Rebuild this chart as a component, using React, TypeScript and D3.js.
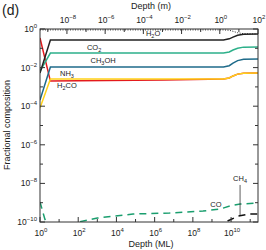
import React, { useEffect, useRef } from 'react';
import * as d3 from 'd3';

// depth grid (monolayers) shared by the ice species
const depthML = [1, 3.5, 3e6, 4e9, 8e9, 1.26e10, 2.2e10, 4.5e10, 2.56e11];
const h2oDotted = [0.9, 0.9, 0.9, 0.9, 0.86, 0.76, 0.64, 0.57, 0.55];
const bulkSolid = [0.0052, 0.27, 0.27, 0.27, 0.31, 0.38, 0.47, 0.54, 0.55];
const co2 = [0.0066, 0.057, 0.057, 0.057, 0.065, 0.082, 0.1, 0.115, 0.117];
const ch3oh = [2.1e-4, 0.0107, 0.0107, 0.0107, 0.0125, 0.017, 0.023, 0.027, 0.028];
const nh3 = [0.34, 0.002, 0.0023, 0.0026, 0.0029, 0.0037, 0.0046, 0.0051, 0.0052];
const h2co = [8.1e-5, 0.0026, 0.0026, 0.0026, 0.0029, 0.0037, 0.0046, 0.0051, 0.0052];

const coDepth = [1, 1.8, 3, 30, 100, 1e3, 7.4e4, 6e6, 3.4e8, 2.6e9, 9e9, 3e10, 2.56e11];
const coValue = [1.1e-9, 1.4e-10, 5e-11, 5e-11, 1e-10, 1.6e-10, 2.6e-10, 2.9e-10, 3.7e-10, 4.7e-10, 6.8e-10, 8.5e-10, 9.6e-10];
const ch4Depth = [2e9, 5e9, 2.3e10, 1e11, 2.56e11];
const ch4Value = [5e-11, 1e-10, 2e-10, 2.6e-10, 2.6e-10];

const mPerML = 3.9e-10;
const bottomTicks = [0, 2, 4, 6, 8, 10];
const topTicks = [-8, -6, -4, -2, 0, 2];
const yTicks = [0, -2, -4, -6, -8, -10];

// label: [main, subscript, depth, value]
const labels: [string, string, number, number][] = [
  ['CO', '2', 676, 0.081],
  ['CH', '3OH', 2000, 0.0174],
  ['NH', '3', 25.7, 0.0036],
  ['H', '2CO', 25.7, 8.7e-4],
  ['H', '2O', 8.3e5, 0.44],
  ['CO', '', 1.6e9, 6e-10],
  ['CH', '4', 2.95e10, 1.3e-8],
];

const FONT = 'Liberation Sans, Arial, Helvetica, sans-serif';

const App: React.FC = () => {
  const svgRef = useRef<SVGSVGElement>(null);

  useEffect(() => {
    if (!svgRef.current) return;
    const svg = d3.select(svgRef.current);
    svg.selectAll('*').remove();

    const left = 40, right = 258, top = 29, bottom = 222;
    const x = d3.scaleLog().domain([1, 2.56e11]).range([left, right]);
    const xm = d3.scaleLog().domain([mPerML, 2.56e11 * mPerML]).range([left, right]);
    const y = d3.scaleLog().domain([1e-10, 1]).range([bottom, top]);

    svg.append('defs').append('clipPath').attr('id', 'plot-clip')
      .append('rect').attr('x', left).attr('y', top).attr('width', right - left).attr('height', bottom - top);

    const g = svg.append('g').attr('clip-path', 'url(#plot-clip)');
    const line = d3.line<[number, number]>().x(d => x(d[0])).y(d => y(d[1]));
    const pairs = (xs: number[], vs: number[]) => xs.map((d, i) => [d, vs[i]] as [number, number]);

    const series: [number[], number[], string, string, number][] = [
      [depthML, nh3, '#e41a1c', '', 1.5],
      [depthML, h2co, '#ffd21a', '', 1.5],
      [depthML, ch3oh, '#1f6b8a', '', 1.5],
      [depthML, co2, '#2db08a', '', 1.5],
      [depthML, bulkSolid, '#222', '', 1.5],
      [depthML, h2oDotted, '#222', '1,1.5', 1],
      [coDepth, coValue, '#1a9e6e', '7,5', 1.5],
      [ch4Depth, ch4Value, '#111', '7,5', 1.5],
    ];
    series.forEach(([xs, vs, color, dash, w]) => {
      g.append('path')
        .attr('d', line(pairs(xs, vs)))
        .attr('fill', 'none')
        .attr('stroke', color)
        .attr('stroke-width', w)
        .attr('stroke-dasharray', dash || null);
    });

    // frame
    svg.append('rect')
      .attr('x', left).attr('y', top).attr('width', right - left).attr('height', bottom - top)
      .attr('fill', 'none').attr('stroke', '#333').attr('stroke-width', 1);

    const tickG = svg.append('g').attr('stroke', '#333').attr('stroke-width', 1);
    // bottom / top ticks at every decade
    d3.range(0, 12).forEach(k => {
      const len = k % 2 === 0 ? 5 : 3;
      const px = x(Math.pow(10, k));
      tickG.append('line').attr('x1', px).attr('x2', px).attr('y1', bottom).attr('y2', bottom - len);
    });
    d3.range(-9, 3).forEach(k => {
      const len = k % 2 === 0 ? 5 : 3;
      const px = xm(Math.pow(10, k));
      tickG.append('line').attr('x1', px).attr('x2', px).attr('y1', top).attr('y2', top + len);
    });
    d3.range(-10, 1).forEach(k => {
      const len = k % 2 === 0 ? 5 : 3;
      const py = y(Math.pow(10, k));
      tickG.append('line').attr('x1', left).attr('x2', left + len).attr('y1', py).attr('y2', py);
      tickG.append('line').attr('x1', right).attr('x2', right - len).attr('y1', py).attr('y2', py);
    });

    const powLabel = (px: number, py: number, exp: number, anchor: string) => {
      const t = svg.append('text')
        .attr('x', px).attr('y', py)
        .attr('text-anchor', anchor)
        .attr('font-family', FONT)
        .attr('font-size', 8.5)
        .attr('fill', '#222');
      t.append('tspan').text('10');
      t.append('tspan').attr('dy', -4).attr('font-size', 6).text(exp < 0 ? '\u2212' + (-exp) : String(exp));
    };

    bottomTicks.forEach(k => powLabel(x(Math.pow(10, k)) + 1, 236, k, 'middle'));
    topTicks.forEach(k => powLabel(xm(Math.pow(10, k)) + 1, 23, k, 'middle'));
    yTicks.forEach(k => powLabel(left - 3, y(Math.pow(10, k)) + 3, k, 'end'));

    const title = (px: number, py: number, txt: string, rot = 0) =>
      svg.append('text')
        .attr('transform', `translate(${px},${py}) rotate(${rot})`)
        .attr('text-anchor', 'middle')
        .attr('font-family', FONT)
        .attr('font-size', 9)
        .attr('fill', '#222')
        .text(txt);

    title(151, 9, 'Depth (m)');
    title(151, 247, 'Depth (ML)');
    title(10, 125, 'Fractional composition', -90);

    svg.append('text')
      .attr('x', 2).attr('y', 15)
      .attr('font-family', FONT).attr('font-size', 14).attr('fill', '#222')
      .text('(d)');

    // species labels
    labels.forEach(([main, sub, d, v]) => {
      const t = svg.append('text')
        .attr('x', x(d)).attr('y', y(v))
        .attr('text-anchor', 'middle')
        .attr('font-family', FONT)
        .attr('font-size', 7.5)
        .attr('fill', '#222');
      t.append('tspan').text(main);
      if (sub) {
        const digits = sub.match(/^\d+/)![0];
        const rest = sub.slice(digits.length);
        t.append('tspan').attr('dy', 2).attr('font-size', 5.5).text(digits);
        if (rest) t.append('tspan').attr('dy', -2).text(rest);
      }
    });

    // CH4 leader line
    const ch4Label = labels[6];
    svg.append('line')
      .attr('x1', x(ch4Label[2])).attr('x2', x(ch4Label[2]))
      .attr('y1', y(8.3e-9)).attr('y2', y(2.3e-10))
      .attr('stroke', '#333').attr('stroke-width', 0.8);
  }, []);

  return (
    <div style={{ position: 'fixed', left: 0, top: 0 }}>
      <svg ref={svgRef} width={266} height={250} style={{ display: 'block', background: '#fff' }} />
    </div>
  );
};

export default App;
